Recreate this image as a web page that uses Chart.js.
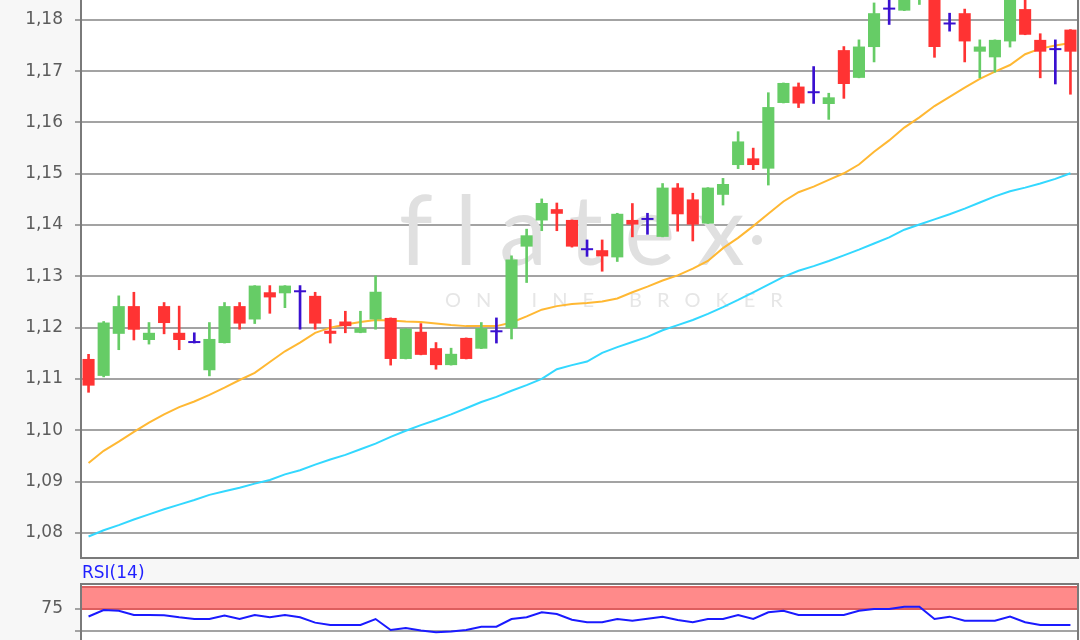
<!DOCTYPE html>
<html>
<head>
<meta charset="utf-8">
<script src="https://cdn.jsdelivr.net/npm/chart.js@4.4.1/dist/chart.umd.min.js"></script>
<style>
  html, body { margin: 0; padding: 0; width: 1080px; height: 640px; overflow: hidden; background: #f7f7f7; }
  .box { position: absolute; left: 0; width: 1080px; }
  #mainBox { top: -40px; height: 600px; }
  #rsiBox { top: 560px; height: 117px; }
  #rsiLabel { position: absolute; left: 82px; top: 562px; font: 17px "DejaVu Sans", sans-serif; color: #1f1fff; z-index: 2; }
</style>
</head>
<body>
<div class="box" id="mainBox"><canvas id="mainChart"></canvas></div>
<div class="box" id="rsiBox"><canvas id="rsiChart"></canvas></div>
<div id="rsiLabel">RSI(14)</div>
<script>
// Kurse (Tageskerzen)
const opens  = [1.1139,1.1106,1.1188,1.1242,1.1176,1.1242,1.1190,1.1170,1.1117,1.1170,1.1242,1.1216,1.1269,1.1267,1.1269,1.1262,
                1.1194,1.1212,1.1190,1.1216,1.1219,1.1139,1.1192,1.1160,1.1127,1.1180,1.1159,1.1191,1.1199,1.1358,1.1409,1.1431,
                1.1410,1.1351,1.1351,1.1337,1.1410,1.1410,1.1377,1.1473,1.1450,1.1403,1.1459,1.1517,1.1530,1.1510,1.1638,1.1670,
                1.1657,1.1636,1.1741,1.1687,1.1747,1.1820,1.1818,1.1860,1.1880,1.1791,1.1813,1.1738,1.1727,1.1758,1.1821,1.1761,
                1.1741,1.1781]
const highs  = [1.1148,1.1212,1.1262,1.1269,1.1210,1.1249,1.1242,1.1190,1.1210,1.1249,1.1249,1.1282,1.1282,1.1282,1.1282,1.1269,
                1.1216,1.1232,1.1232,1.1301,1.1219,1.1198,1.1208,1.1171,1.1160,1.1180,1.1210,1.1219,1.1340,1.1392,1.1451,1.1443,
                1.1410,1.1371,1.1371,1.1423,1.1442,1.1423,1.1481,1.1481,1.1462,1.1473,1.1491,1.1582,1.1550,1.1658,1.1677,1.1677,
                1.1709,1.1657,1.1748,1.1761,1.1833,1.1841,1.1860,1.1890,1.1890,1.1813,1.1821,1.1761,1.1761,1.1860,1.1850,1.1773,
                1.1761,1.1781]
const lows   = [1.1074,1.1104,1.1157,1.1176,1.1168,1.1188,1.1157,1.1170,1.1106,1.1170,1.1197,1.1208,1.1228,1.1239,1.1197,1.1197,
                1.1170,1.1190,1.1190,1.1197,1.1127,1.1139,1.1147,1.1119,1.1127,1.1139,1.1159,1.1170,1.1178,1.1288,1.1389,1.1389,
                1.1357,1.1339,1.1310,1.1329,1.1377,1.1382,1.1377,1.1388,1.1369,1.1403,1.1439,1.1510,1.1508,1.1478,1.1638,1.1629,
                1.1637,1.1606,1.1647,1.1687,1.1718,1.1791,1.1818,1.1830,1.1727,1.1778,1.1718,1.1687,1.1698,1.1747,1.1771,1.1687,
                1.1675,1.1655]
const closes = [1.1087,1.1210,1.1242,1.1196,1.1190,1.1209,1.1176,1.1170,1.1178,1.1242,1.1208,1.1282,1.1259,1.1282,1.1269,1.1208,
                1.1188,1.1203,1.1199,1.1270,1.1139,1.1198,1.1147,1.1127,1.1149,1.1139,1.1199,1.1191,1.1333,1.1380,1.1443,1.1422,
                1.1358,1.1351,1.1339,1.1422,1.1401,1.1410,1.1473,1.1421,1.1401,1.1473,1.1480,1.1563,1.1517,1.1630,1.1677,1.1637,
                1.1657,1.1649,1.1675,1.1748,1.1813,1.1820,1.1850,1.1875,1.1747,1.1791,1.1758,1.1748,1.1761,1.1850,1.1771,1.1738,
                1.1741,1.1738]

// gleitende Durchschnitte
const maShort = [1.0936,1.0960,1.0978,1.0997,1.1015,1.1031,1.1045,1.1056,1.1069,1.1083,1.1098,1.1112,1.1133,1.1154,1.1171,1.1190,
                 1.1200,1.1206,1.1211,1.1215,1.1214,1.1212,1.1211,1.1208,1.1205,1.1203,1.1203,1.1203,1.1210,1.1222,1.1235,1.1242,
                 1.1246,1.1248,1.1251,1.1257,1.1269,1.1280,1.1292,1.1302,1.1315,1.1330,1.1355,1.1375,1.1398,1.1422,1.1446,1.1464,
                 1.1475,1.1488,1.1501,1.1518,1.1543,1.1565,1.1590,1.1610,1.1632,1.1650,1.1668,1.1685,1.1699,1.1712,1.1733,1.1744,
                 1.1750,1.1755]
const maLong  = [1.0793,1.0805,1.0815,1.0826,1.0836,1.0846,1.0855,1.0864,1.0874,1.0881,1.0888,1.0896,1.0903,1.0914,1.0922,1.0933,
                 1.0943,1.0952,1.0963,1.0974,1.0987,1.0999,1.1010,1.1020,1.1031,1.1043,1.1055,1.1065,1.1077,1.1088,1.1100,1.1119,
                 1.1127,1.1134,1.1151,1.1162,1.1172,1.1182,1.1195,1.1205,1.1215,1.1227,1.1240,1.1254,1.1269,1.1284,1.1299,1.1311,
                 1.1320,1.1330,1.1341,1.1352,1.1364,1.1376,1.1391,1.1401,1.1411,1.1421,1.1432,1.1444,1.1456,1.1466,1.1473,1.1481,
                 1.1490,1.1501]

// RSI(14)
const rsiValues = [66.5,73.9,73.0,68.2,68.2,68.0,65.6,63.6,63.6,67.5,63.6,68.2,65.6,68.2,65.6,59.5,
                   56.8,56.8,56.8,63.6,51.1,53.5,50.5,48.5,49.5,51.1,54.9,54.9,63.6,65.6,71.2,69.3,
                   62.8,59.9,59.9,63.6,61.7,64.0,66.3,62.5,59.9,63.6,63.6,68.2,63.6,71.2,73.0,68.2,
                   68.2,68.2,68.2,73.0,75.0,75.0,77.6,77.6,63.6,66.3,61.7,61.7,61.7,66.3,59.9,56.8,
                   56.8,56.8]

const priceTicks = [1.08,1.09,1.10,1.11,1.12,1.13,1.14,1.15,1.16,1.17,1.18,1.19]
const rsiTicks = [50,75]
const categories = opens.map((_, i) => String(i + 1))

const colors = {
  up: "#66cc66",
  down: "#ff3333",
  doji: "#3a10d0",
  maShort: "#ffb833",
  maLong: "#33d8ff",
  rsi: "#1a1aff",
  grid: "#a3a3a3",
  frame: "#7a7a7a",
  tick: "#5c5c5c",
}

const candleColor = opens.map((o, i) => closes[i] > o ? colors.up : closes[i] < o ? colors.down : colors.doji)

// weisser Plotbereich + Rahmen
const framePlugin = {
  id: "frame",
  beforeDraw(chart) {
    const { ctx, chartArea: a } = chart
    ctx.save()
    ctx.fillStyle = "#ffffff"
    ctx.fillRect(a.left, a.top, a.right - a.left, a.bottom - a.top)
    ctx.restore()
  },
  afterDraw(chart) {
    const { ctx, chartArea: a } = chart
    ctx.save()
    ctx.strokeStyle = colors.frame
    ctx.lineWidth = 2
    ctx.strokeRect(a.left, a.top, a.right - a.left, a.bottom - a.top)
    ctx.restore()
  },
}

// Logo im Hintergrund
const watermarkPlugin = {
  id: "watermark",
  beforeDatasetsDraw(chart) {
    const { ctx, chartArea: a } = chart
    ctx.save()
    ctx.fillStyle = "#e0e0e0"
    ctx.textAlign = "left"
    ctx.font = "400 96px Lato"
    ctx.letterSpacing = "22px"
    ctx.fillText("flatex", a.left + 318, a.bottom - 293)
    ctx.beginPath()
    ctx.arc(a.left + 676, a.bottom - 318, 5, 0, Math.PI * 2)
    ctx.fill()
    ctx.fillStyle = "#e6e6e6"
    ctx.font = "20px Lato"
    ctx.letterSpacing = "15px"
    ctx.fillText("ONLINE BROKER", a.left + 364, a.bottom - 251)
    ctx.restore()
  },
}

// ueberkaufter Bereich 75-100
const bandPlugin = {
  id: "band",
  beforeDatasetsDraw(chart) {
    const { ctx, chartArea: a, scales } = chart
    const y100 = scales.y.getPixelForValue(100)
    const y75 = scales.y.getPixelForValue(75)
    ctx.save()
    ctx.fillStyle = "#ff8a8a"
    ctx.fillRect(a.left, y100, a.right - a.left, y75 - y100)
    ctx.strokeStyle = "#dd5f5f"
    ctx.lineWidth = 2
    ctx.beginPath()
    ctx.moveTo(a.left, y100); ctx.lineTo(a.right, y100)
    ctx.moveTo(a.left, y75); ctx.lineTo(a.right, y75)
    ctx.stroke()
    ctx.restore()
  },
}

const tickFont = { family: "DejaVu Sans", size: 17 }

// feste Achsenbreite, keine Extra-Polsterung fuer Beschriftungen
const fitAxis = (scale) => {
  scale.width = 81
  scale.paddingTop = 0
  scale.paddingBottom = 0
}

new Chart(document.getElementById("mainChart"), {
  type: "bar",
  data: {
    labels: categories,
    datasets: [
      {
        label: "Body",
        data: opens.map((o, i) => [o, closes[i]]),
        backgroundColor: candleColor,
        borderWidth: 0,
        barPercentage: 0.8,
        categoryPercentage: 1,
        minBarLength: 2,
        grouped: false,
        order: 1,
      },
      {
        label: "Wick",
        data: lows.map((l, i) => [l, highs[i]]),
        backgroundColor: candleColor,
        borderWidth: 0,
        barThickness: 2,
        grouped: false,
        order: 2,
      },
      {
        type: "line",
        label: "MA kurz",
        data: maShort,
        borderColor: colors.maShort,
        borderWidth: 2,
        pointRadius: 0,
        tension: 0,
        order: 3,
      },
      {
        type: "line",
        label: "MA lang",
        data: maLong,
        borderColor: colors.maLong,
        borderWidth: 2,
        pointRadius: 0,
        tension: 0,
        order: 3,
      },
    ],
  },
  options: {
    responsive: true,
    maintainAspectRatio: false,
    animation: false,
    layout: { padding: { top: 6, bottom: 2, right: 2, left: 0 } },
    scales: {
      x: { display: false, offset: true },
      y: {
        min: 1.0751,
        max: 1.1905,
        afterFit: fitAxis,
        afterBuildTicks: (scale) => { scale.ticks = priceTicks.map((v) => ({ value: v })) },
        grid: { color: colors.grid, lineWidth: 2, tickLength: 6 },
        border: { display: false },
        ticks: {
          padding: 12,
          color: colors.tick,
          font: tickFont,
          callback: (v) => Number(v).toFixed(2).replace(".", ","),
        },
      },
    },
    plugins: { legend: { display: false }, tooltip: { enabled: false } },
  },
  plugins: [framePlugin, watermarkPlugin],
})

new Chart(document.getElementById("rsiChart"), {
  type: "line",
  data: {
    labels: categories,
    datasets: [
      {
        label: "RSI(14)",
        data: rsiValues,
        borderColor: colors.rsi,
        borderWidth: 2,
        pointRadius: 0,
        tension: 0,
      },
    ],
  },
  options: {
    responsive: true,
    maintainAspectRatio: false,
    animation: false,
    layout: { padding: { top: 24, bottom: 2, right: 2, left: 0 } },
    scales: {
      x: { display: false, offset: true },
      y: {
        min: 0,
        max: 103.4,
        afterFit: fitAxis,
        afterBuildTicks: (scale) => { scale.ticks = rsiTicks.map((v) => ({ value: v })) },
        grid: { color: colors.grid, lineWidth: 2, tickLength: 6 },
        border: { display: false },
        ticks: {
          padding: 12,
          color: colors.tick,
          font: tickFont,
          callback: (v) => (v === 75 ? "75" : ""),
        },
      },
    },
    plugins: { legend: { display: false }, tooltip: { enabled: false } },
  },
  plugins: [framePlugin, bandPlugin],
})
</script>
</body>
</html>
